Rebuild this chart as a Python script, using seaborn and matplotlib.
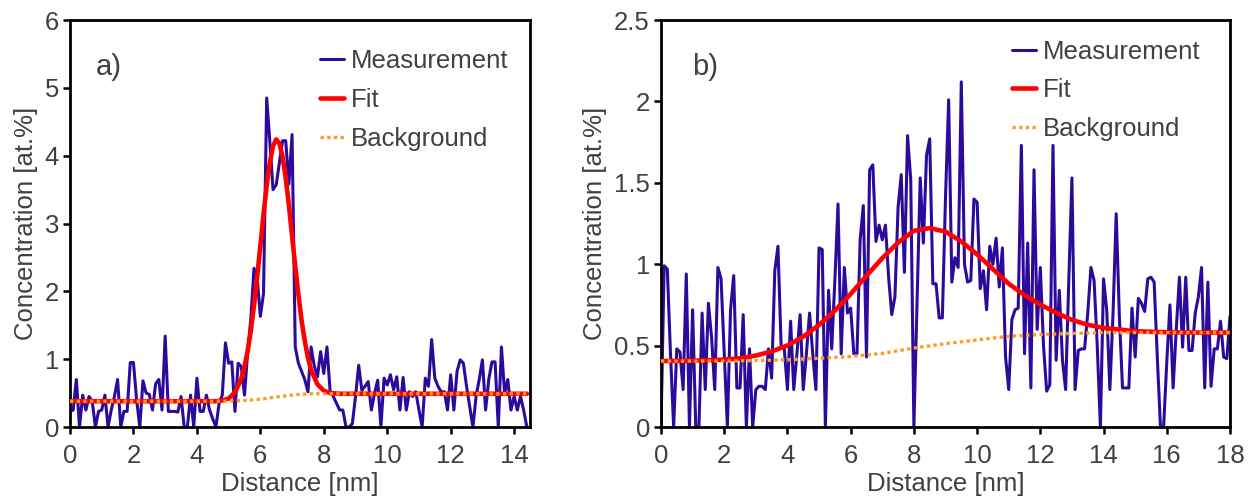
import numpy as np
import matplotlib
matplotlib.use("Agg")
import matplotlib.pyplot as plt
from matplotlib.ticker import FuncFormatter
import seaborn as sns

# ---------------- data: panel a ----------------
a_step = 0.1
a_measurement = [
    0.23, 0.25, 0.70, 0.00, 0.47, 0.25, 0.45, 0.38, 0.00, 0.23,
    0.25, 0.47, 0.00, 0.25, 0.45, 0.70, 0.00, 0.23, 0.23, 0.95,
    0.95, 0.40, 0.00, 0.68, 0.50, 0.48, 0.25, 0.64, 0.70, 0.25,
    1.34, 0.23, 0.23, 0.23, 0.22, 0.45, 0.00, 0.00, 0.47, 0.00,
    0.72, 0.23, 0.23, 0.47, 0.25, 0.12, 0.00, 0.35, 0.47, 1.24,
    0.94, 0.96, 0.23, 0.94, 0.89, 0.47, 1.10, 1.60, 2.34, 2.20,
    1.63, 1.97, 4.85, 4.20, 3.50, 3.57, 3.90, 4.22, 4.22, 3.58,
    4.31, 1.18, 0.94, 0.82, 0.70, 0.52, 1.18, 0.90, 0.74, 1.11,
    0.79, 1.18, 0.52, 0.45, 0.35, 0.25, 0.25, 0.00, 0.00, 0.05,
    0.45, 0.91, 0.54, 0.60, 0.67, 0.25, 0.50, 0.69, 0.00, 0.72,
    0.62, 0.77, 0.55, 0.74, 0.25, 0.73, 0.25, 0.52, 0.45, 0.52,
    0.25, 0.00, 0.72, 0.60, 1.29, 0.72, 0.60, 0.52, 0.52, 0.25,
    0.77, 0.25, 0.82, 0.99, 0.94, 0.60, 0.30, 0.00, 0.45, 0.70,
    0.99, 0.25, 0.70, 0.96, 0.96, 0.00, 1.18, 0.50, 0.70, 0.25,
    0.45, 0.25, 0.45, 0.25, 0.00,
]
a_fit_x = [0, 2, 4, 4.6, 4.8, 5.0, 5.2, 5.4, 5.5, 5.6, 5.7, 5.8, 5.9, 6.0, 6.1,
           6.2, 6.3, 6.4, 6.5, 6.6, 6.7, 6.8, 6.9, 7.0, 7.1, 7.2, 7.3, 7.4,
           7.5, 7.6, 7.8, 8.0, 8.2, 8.5, 10, 12, 14.4]
a_fit_y = [0.38, 0.38, 0.38, 0.38, 0.39, 0.42, 0.51, 0.71, 0.89, 1.12, 1.42,
           1.79, 2.21, 2.67, 3.13, 3.56, 3.90, 4.14, 4.24, 4.18, 3.99, 3.67,
           3.27, 2.82, 2.37, 1.95, 1.57, 1.27, 1.02, 0.84, 0.63, 0.535, 0.50,
           0.49, 0.49, 0.49, 0.49]
a_bg_x = [0, 4.8, 5.2, 5.6, 6.0, 6.4, 6.8, 7.2, 7.6, 8.0, 14.4]
a_bg_y = [0.38, 0.38, 0.385, 0.395, 0.41, 0.435, 0.46, 0.48, 0.49, 0.49, 0.49]
a_xticks = [0, 2, 4, 6, 8, 10, 12, 14]
a_yticks = [0, 1, 2, 3, 4, 5, 6]

# ---------------- data: panel b ----------------
b_step = 0.1
b_measurement = [
    0.00, 0.99, 0.97, 0.45, 0.00, 0.48, 0.46, 0.23, 0.94, 0.00,
    0.72, 0.00, 0.00, 0.70, 0.23, 0.76, 0.55, 0.23, 0.98, 0.91,
    0.45, 0.00, 0.72, 0.93, 0.24, 0.24, 0.69, 0.00, 0.48, 0.00,
    0.23, 0.25, 0.25, 0.23, 0.48, 0.30, 0.96, 1.11, 0.50, 0.48,
    0.23, 0.65, 0.23, 0.45, 0.69, 0.23, 0.45, 0.70, 0.45, 0.23,
    1.10, 1.09, 0.00, 0.84, 0.48, 0.90, 1.37, 0.45, 0.98, 0.70,
    0.73, 0.45, 0.45, 1.15, 1.36, 0.43, 1.58, 1.61, 1.14, 1.24,
    1.15, 1.24, 0.92, 0.69, 0.80, 1.35, 1.55, 0.95, 1.79, 1.52,
    0.00, 0.76, 1.53, 1.13, 1.67, 1.77, 0.88, 0.88, 0.67, 0.67,
    1.41, 2.01, 0.89, 1.04, 0.98, 2.12, 1.00, 0.89, 0.90, 1.40,
    1.38, 0.85, 0.96, 0.72, 1.11, 1.00, 1.16, 0.86, 1.10, 0.43,
    0.23, 0.66, 0.72, 0.73, 1.73, 0.45, 1.13, 0.24, 1.58, 0.60,
    0.98, 0.50, 0.22, 0.26, 1.73, 0.41, 0.84, 0.41, 0.23, 0.90,
    1.53, 0.23, 0.47, 0.48, 0.48, 0.70, 0.98, 0.90, 0.50, 0.00,
    0.91, 0.72, 0.23, 0.70, 1.31, 0.68, 0.24, 0.24, 0.24, 0.73,
    0.43, 0.79, 0.76, 0.71, 0.91, 0.92, 0.89, 0.43, 0.00, 0.00,
    0.40, 0.75, 0.24, 0.60, 0.92, 0.49, 0.92, 0.47, 0.47, 0.70,
    0.80, 0.98, 0.24, 0.89, 0.25, 0.48, 0.48, 0.65, 0.43, 0.42,
    0.68,
]
b_fit_x = [0, 1, 2, 2.5, 3, 3.5, 4, 4.5, 5, 5.5, 6, 6.5, 7, 7.5, 8, 8.5, 9,
           9.5, 10, 10.5, 11, 11.5, 12, 12.5, 13, 13.5, 14, 15, 16, 17, 18]
b_fit_y = [0.405, 0.407, 0.414, 0.422, 0.439, 0.464, 0.501, 0.555, 0.627,
           0.715, 0.817, 0.929, 1.037, 1.133, 1.205, 1.222, 1.200, 1.140,
           1.060, 0.970, 0.880, 0.810, 0.752, 0.702, 0.658, 0.628, 0.609,
           0.588, 0.582, 0.580, 0.580]
b_bg_x = [0, 2, 3, 4, 5, 6, 7, 8, 9, 10, 11, 12, 13, 14, 18]
b_bg_y = [0.405, 0.405, 0.408, 0.413, 0.422, 0.433, 0.452, 0.485, 0.512,
          0.535, 0.557, 0.568, 0.575, 0.58, 0.58]
b_xticks = [0, 2, 4, 6, 8, 10, 12, 14, 16, 18]
b_yticks = [0, 0.5, 1, 1.5, 2, 2.5]

labels = ["Measurement", "Fit", "Background"]

# ---------------- style ----------------
sns.set_style("ticks")
plt.rcParams["font.family"] = ["Liberation Sans", "DejaVu Sans"]

MEAS_C = "#2c0b9c"
FIT_C = "#ff0000"
BG_C = "#ff9a22"
TXT_C = "#404040"
FS = 18.5

W, H = 1254, 498
fig = plt.figure(figsize=(W / 100, H / 100), dpi=100)
ax_a = fig.add_axes([70 / W, 1 - 427 / H, 460 / W, 407 / H])
ax_b = fig.add_axes([661 / W, 1 - 427 / H, 569 / W, 407 / H])


def draw(ax, step, meas, fx, fy, bx, by, xlim, ylim, xticks, yticks,
         letter, leg_anchor, spacing):
    mx = np.round(np.arange(len(meas)) * step, 2)
    sns.lineplot(x=mx, y=meas, ax=ax, color=MEAS_C, linewidth=2.2,
                 label=labels[0], zorder=2)
    sns.lineplot(x=fx, y=fy, ax=ax, color=FIT_C, linewidth=3.3,
                 label=labels[1], zorder=3)
    sns.lineplot(x=bx, y=by, ax=ax, color=BG_C, linewidth=2.4,
                 linestyle=(0, (1, 1)), label=labels[2], zorder=4)
    ax.set_xlim(*xlim)
    ax.set_ylim(*ylim)
    ax.set_xticks(xticks)
    ax.set_yticks(yticks)
    fmt = FuncFormatter(lambda v, p: f"{v:g}")
    ax.xaxis.set_major_formatter(fmt)
    ax.yaxis.set_major_formatter(fmt)
    for s in ax.spines.values():
        s.set_visible(True)
        s.set_linewidth(2.0)
        s.set_color("black")
    ax.tick_params(axis="both", direction="out", length=5, width=1.8,
                   color="black", labelcolor=TXT_C, labelsize=FS)
    ax.tick_params(axis="x", pad=7)
    ax.tick_params(axis="y", pad=3)
    ax.set_xlabel("Distance [nm]", fontsize=FS, color=TXT_C, labelpad=3)
    ax.set_ylabel("Concentration [at.%]", fontsize=FS, color=TXT_C,
                  labelpad=5)
    ax.text(0.055, 0.885, letter, transform=ax.transAxes, fontsize=21,
            color=TXT_C, va="center", ha="left")
    ax.legend(loc="upper left", bbox_to_anchor=leg_anchor, frameon=False,
              fontsize=FS, handlelength=0.95, handletextpad=0.25,
              labelspacing=spacing, borderpad=0, borderaxespad=0,
              labelcolor=TXT_C)


draw(ax_a, a_step, a_measurement, a_fit_x, a_fit_y, a_bg_x, a_bg_y,
     (0, 14.5), (0, 6), a_xticks, a_yticks, "a)", (0.543, 0.928), 0.57)
draw(ax_b, b_step, b_measurement, b_fit_x, b_fit_y, b_bg_x, b_bg_y,
     (0, 18), (0, 2.5), b_xticks, b_yticks, "b)", (0.617, 0.95), 0.55)

fig.savefig("out.png", dpi=100)
